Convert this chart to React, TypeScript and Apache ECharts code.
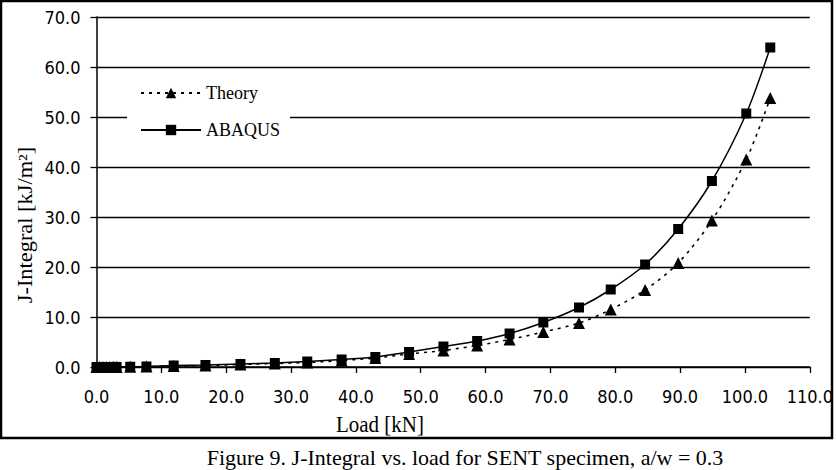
import React, { useEffect, useRef } from "react";
import * as echarts from "echarts";

// Load values (kN) at which both J-integral estimates were evaluated
const loads = [
  0, 0.5, 1.0, 1.5, 2.0, 2.6, 3.1, 5.2, 7.7, 11.9, 16.8, 22.2, 27.5, 32.5,
  37.8, 43.0, 48.2, 53.5, 58.7, 63.7, 68.9, 74.4, 79.3, 84.6, 89.7, 94.9,
  100.2, 103.9,
];

// J-integral from the analytical solution (kJ/m²)
const theory = [
  0, 0, 0, 0, 0, 0.01, 0.02, 0.04, 0.08, 0.2, 0.3, 0.5, 0.7, 0.9, 1.3, 1.8,
  2.6, 3.3, 4.3, 5.5, 7.0, 8.8, 11.5, 15.4, 20.8, 29.3, 41.5, 53.8,
];

// J-integral from the ABAQUS finite element model (kJ/m²)
const abaqus = [
  0, 0, 0, 0, 0, 0.01, 0.02, 0.05, 0.1, 0.3, 0.4, 0.6, 0.8, 1.1, 1.5, 2.0,
  3.0, 4.1, 5.2, 6.7, 8.9, 11.9, 15.5, 20.5, 27.6, 37.2, 50.7, 63.9,
];

const seriesNames = ["Theory", "ABAQUS"];
const xTitle = "Load [kN]";
const yTitle = "J-Integral [kJ/m²]";
const caption = "Figure 9. J-Integral vs. load for SENT specimen, a/w = 0.3";

const SERIF = "'Liberation Serif', 'Times New Roman', serif";
const NARROW = "'Liberation Sans Narrow', 'Arial Narrow', 'DejaVu Sans Condensed', sans-serif";

export default function App() {
  const ref = useRef<HTMLDivElement>(null);

  useEffect(() => {
    if (!ref.current) return;
    const chart = echarts.init(ref.current, undefined, { renderer: "svg" });

    const pairs = (ys: number[]) => loads.map((x, i) => [x, ys[i]]);

    chart.setOption({
      animation: false,
      backgroundColor: "#fff",
      grid: { left: 96.5, right: 23, top: 17, bottom: 103, containLabel: false },
      legend: {
        orient: "vertical",
        left: 127,
        top: 76,
        backgroundColor: "#fff",
        padding: [8, 10, 8, 13],
        itemWidth: 60,
        itemHeight: 13,
        itemGap: 19,
        data: seriesNames,
        textStyle: { fontFamily: SERIF, fontSize: 18, color: "#000" },
      },
      xAxis: {
        type: "value",
        min: 0,
        max: 110,
        interval: 10,
        axisLine: { lineStyle: { color: "#000", width: 1.5 } },
        axisTick: { show: true, length: 6, lineStyle: { color: "#000", width: 1.3 } },
        axisLabel: {
          margin: 20,
          color: "#000",
          fontFamily: NARROW,
          fontSize: 18,
          formatter: (v: number) => v.toFixed(1),
        },
        splitLine: { show: false },
      },
      yAxis: {
        type: "value",
        min: 0,
        max: 70,
        interval: 10,
        axisLine: { show: true, lineStyle: { color: "#000", width: 1.5 } },
        axisTick: { show: true, length: 6, lineStyle: { color: "#000", width: 1.3 } },
        axisLabel: {
          margin: 16,
          color: "#000",
          fontFamily: NARROW,
          fontSize: 18,
          formatter: (v: number) => v.toFixed(1),
        },
        splitLine: { show: true, lineStyle: { color: "#000", width: 1.3 } },
      },
      series: [
        {
          name: seriesNames[0],
          type: "line",
          data: pairs(theory),
          smooth: 0.3,
          symbol: "triangle",
          symbolSize: 12,
          itemStyle: { color: "#000" },
          lineStyle: { color: "#000", width: 1.6, type: [3, 5] },
        },
        {
          name: seriesNames[1],
          type: "line",
          data: pairs(abaqus),
          smooth: 0.3,
          symbol: "rect",
          symbolSize: 10,
          itemStyle: { color: "#000" },
          lineStyle: { color: "#000", width: 1.5 },
        },
      ],
      graphic: [
        {
          type: "rect",
          shape: { x: 1, y: 1, width: 831, height: 437 },
          style: { fill: "none", stroke: "#000", lineWidth: 2.5 },
          silent: true,
        },
        {
          type: "text",
          x: 380,
          y: 424,
          scaleY: 1.12,
          style: {
            text: xTitle,
            fontFamily: SERIF,
            fontSize: 21,
            fill: "#000",
            align: "center",
            verticalAlign: "middle",
          },
        },
        {
          type: "text",
          x: 25,
          y: 225,
          rotation: Math.PI / 2,
          scaleX: 1.12,
          style: {
            text: yTitle,
            fontFamily: SERIF,
            fontSize: 20,
            fill: "#000",
            align: "center",
            verticalAlign: "middle",
          },
        },
        {
          type: "text",
          x: 465,
          y: 457,
          style: {
            text: caption,
            fontFamily: SERIF,
            fontSize: 22,
            fill: "#000",
            align: "center",
            verticalAlign: "middle",
          },
        },
      ],
    });

    return () => chart.dispose();
  }, []);

  return (
    <div
      ref={ref}
      style={{ position: "absolute", left: 0, top: 0, width: 836, height: 470 }}
    />
  );
}
